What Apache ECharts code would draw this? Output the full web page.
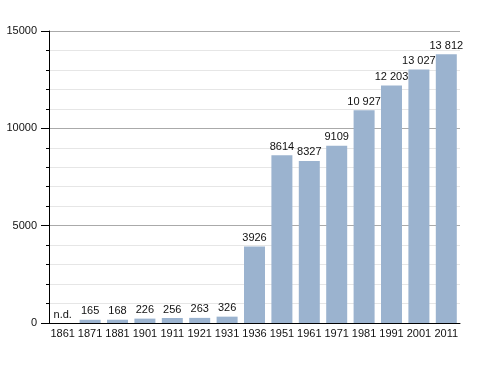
<!DOCTYPE html>
<html><head><meta charset="utf-8">
<script src="https://cdn.jsdelivr.net/npm/echarts@6/dist/echarts.min.js"></script>
<style>html,body{margin:0;padding:0;background:#fff}#c{width:488px;height:373px}</style>
</head><body><div id="c"></div>
<script>
const years = ['1861','1871','1881','1901','1911','1921','1931','1936','1951','1961','1971','1981','1991','2001','2011'];
const population = [null,165,168,226,256,263,326,3926,8614,8327,9109,10927,12203,13027,13812];
const yTicks = [0,5000,10000,15000];

function fmt(v){
  const s = String(v);
  return v >= 10000 ? s.slice(0, s.length-3) + ' ' + s.slice(-3) : s;
}
const font = 'Liberation Sans, Arial, sans-serif';
const data = population.map(v => v === null
  ? {value: 0, label: {formatter: 'n.d.'}}
  : {value: v});

const chart = echarts.init(document.getElementById('c'));
chart.setOption({
  animation: false,
  grid: {left: 49, right: 28, top: 31, bottom: 50},
  xAxis: {
    type: 'category', data: years,
    axisLine: {show: true, onZero: false, lineStyle: {color: '#000', width: 1}},
    axisTick: {show: false},
    axisLabel: {color: '#111', fontFamily: font, fontSize: 11, margin: 5, interval: 0}
  },
  yAxis: {
    type: 'value', position: 'left', min: yTicks[0], max: yTicks[yTicks.length-1], interval: 5000,
    axisLine: {show: true, onZero: false, lineStyle: {color: '#000', width: 1}},
    axisTick: {show: true, length: 8, lineStyle: {color: '#000', width: 1}},
    minorTick: {show: true, splitNumber: 5, length: 3, lineStyle: {color: '#000', width: 1}},
    splitLine: {show: true, lineStyle: {color: '#aaaaaa', width: 1}},
    minorSplitLine: {show: true, lineStyle: {color: '#e6e6e6', width: 1}},
    axisLabel: {color: '#111', fontFamily: font, fontSize: 11, margin: 12, formatter: v => String(v)}
  },
  series: [{
    type: 'bar', data: data, barWidth: 21,
    itemStyle: {color: '#9bb3cf'},
    label: {show: true, position: 'top', distance: 3, color: '#111', fontFamily: font, fontSize: 11,
      formatter: p => fmt(p.value)}
  }]
});
</script></body></html>
